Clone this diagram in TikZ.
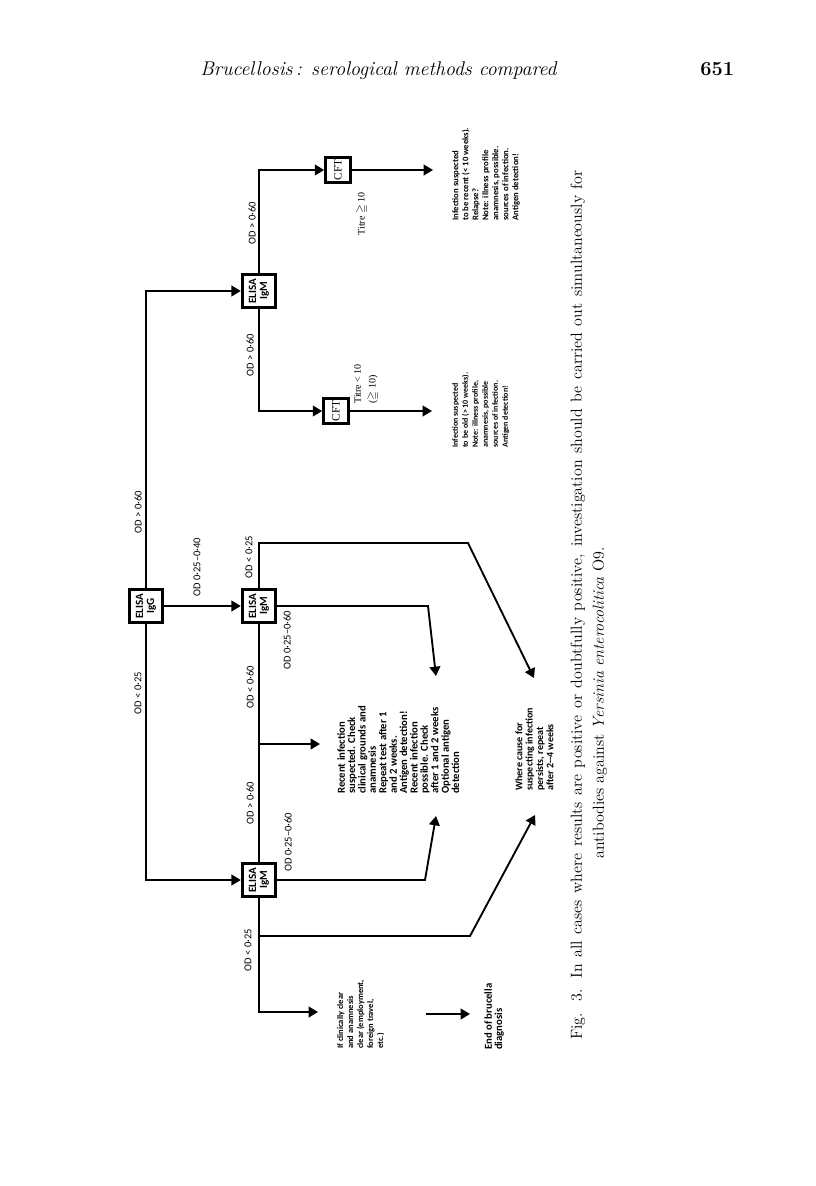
\documentclass[tikz,border=0pt]{standalone}
\usepackage{fontspec}
\usepackage{amssymb}
\usetikzlibrary{arrows.meta}
\newfontfamily\gill{Carlito}
\newfontfamily\timesfont{Liberation Serif}

\tikzset{
  line/.style={line width=1.4pt},
  arr/.style={line width=1.4pt,-{Triangle[length=7pt,width=8pt]}},
  elisa/.style={draw,line width=2.3pt,rotate=90,minimum width=25pt,minimum height=25pt,
    inner sep=0pt,align=center,font=\gill\bfseries\fontsize{8.3}{8.3}\selectfont},
  cftbox/.style={draw,line width=1.8pt,rotate=90,minimum width=19pt,minimum height=19pt,
    inner sep=0pt,font=\timesfont\fontsize{8.5}{9}\selectfont},
  od/.style={rotate=90,inner sep=0pt,font=\gill\fontsize{7.9}{8}\selectfont},
  titre/.style={rotate=90,inner sep=0pt,align=left,font=\timesfont\fontsize{7.5}{11}\selectfont},
  note/.style={rotate=90,anchor=north west,inner sep=0pt,align=left,
    font=\gill\bfseries\fontsize{#1}{7.8}\selectfont},
  note/.default=8,
  smallnote/.style={rotate=90,anchor=north west,inner sep=0pt,align=left,
    font=\gill\bfseries\fontsize{#1}{7.5}\selectfont},
  smallnote/.default=6
}

\begin{document}
\begin{tikzpicture}[x=0.75pt,y=-0.75pt]
\useasboundingbox (0,0) rectangle (816,1186);

% running head
\node[anchor=base west,inner sep=0pt,font=\itshape\fontsize{14.9}{16}\selectfont] (head) at (200,75)
  {Brucellosis\,: serological methods compared};
\node[anchor=base west,inner sep=0pt,font=\bfseries\fontsize{15}{16}\selectfont] (page) at (700,75) {651};

% test boxes
\node[elisa] (igg) at (146,606) {ELISA\\IgG};
\node[elisa] (igmTop) at (259,291) {ELISA\\IgM};
\node[elisa] (igmMid) at (259,606) {ELISA\\IgM};
\node[elisa] (igmLow) at (259,880) {ELISA\\IgM};
\node[cftbox] (cftTop) at (338,170) {CFT};
\node[cftbox] (cftLow) at (336,411) {CFT};

% results
\node[note=8] (recentTxt) at (337,794) {Recent infection\\suspected. Check\\clinical grounds and\\anamnesis\\Repeat test after 1\\and 2 weeks.\\Antigen detection!\\Recent infection\\possible. Check\\after 1 and 2 weeks\\Optional antigen\\detection};
\node[note=7.5] (whereTxt) at (515,791) {Where cause for\\suspecting infection\\persists, repeat\\after 2--4 weeks};
\node[smallnote=6.35] (clearTxt) at (337,1049) {If clinically clear\\and anamnesis\\clear (employment,\\foreign travel,\\etc.)};
\node[note=8] (endTxt) at (484,1050) {End of brucella\\diagnosis};
\node[smallnote=6] (oldTxt) at (452,448) {Infection suspected\\to be old (> 10 weeks).\\Note: illness profile,\\anamnesis, possible\\sources of infection.\\Antigen detection!};
\node[smallnote=6.5] (newTxt) at (452,221) {Infection suspected\\to be recent (< 10 weeks).\\Relapse?\\Note: illness profile\\anamnesis, possible.\\sources of infection.\\Antigen detection!};

% corners and free ends
\coordinate (c1) at (468,543);
\coordinate (t1) at (534,678);
\coordinate (c2) at (428,606);
\coordinate (t2) at (436,676);
\coordinate (c3) at (425,880);
\coordinate (t4) at (436,816);
\coordinate (t5) at (318,1012);
\coordinate (b1) at (259,744);
\coordinate (t3) at (320,744);
\coordinate (b2) at (259,936);
\coordinate (c4) at (470,936);
\coordinate (t6) at (535,815);
\coordinate (t7) at (432,411);
\coordinate (t8) at (433,170);
\coordinate (a1) at (426,1014);
\coordinate (a2) at (470,1014);

% connectors
\draw[arr] (igg) |- (igmTop);
\draw[arr] (igg) |- (igmLow);
\draw[arr] (igg) -- (igmMid);
\draw[arr] (igmMid) |- (c1) -- (t1);
\draw[arr] (igmMid) -- (c2) -- (t2);
\draw[line] (igmMid) -- (igmLow);
\draw[arr] (b1) -- (t3);
\draw[arr] (igmLow) -- (c3) -- (t4);
\draw[arr] (igmLow) |- (t5);
\draw[arr] (b2) -- (c4) -- (t6);
\draw[arr] (igmTop) |- (cftLow);
\draw[arr] (igmTop) |- (cftTop);
\draw[arr] (cftLow) -- (t7);
\draw[arr] (cftTop) -- (t8);
\draw[arr] (a1) -- (a2);

% branch labels
\node[od] (l1) at (138,693) {OD < 0·25};
\node[od] (l2) at (138,512) {OD > 0·60};
\node[od] (l3) at (197,567) {OD 0·25–0·40};
\node[od] (l4) at (249,557) {OD < 0·25};
\node[od] (l5) at (287,640) {OD 0·25–0·60};
\node[od] (l6) at (250,687) {OD < 0·60};
\node[od] (l7) at (250,803) {OD > 0·60};
\node[od] (l8) at (288,842) {OD 0·25–0·60};
\node[od] (l9) at (248,950) {OD < 0·25};
\node[od] (l10) at (250,355) {OD > 0·60};
\node[od] (l11) at (252,223) {OD > 0·60};
\node[titre,anchor=north west] (ti1) at (354,404) {Titre < 10\\($\geqq$ 10)};
\node[titre] (ti2) at (362,214) {Titre $\geqq$ 10};

% caption
\node[rotate=90,inner sep=0pt,font=\fontsize{12}{14}\selectfont] (cap1) at (578,605)
  {\makebox[652pt][s]{Fig. 3. In all cases where results are positive or doubtfully positive, investigation should be carried out simultaneously for}};
\node[rotate=90,inner sep=0pt,font=\fontsize{12}{14}\selectfont] (cap2) at (600,703)
  {antibodies against \textit{Yersinia enterocolitica} O9.};
\end{tikzpicture}
\end{document}
